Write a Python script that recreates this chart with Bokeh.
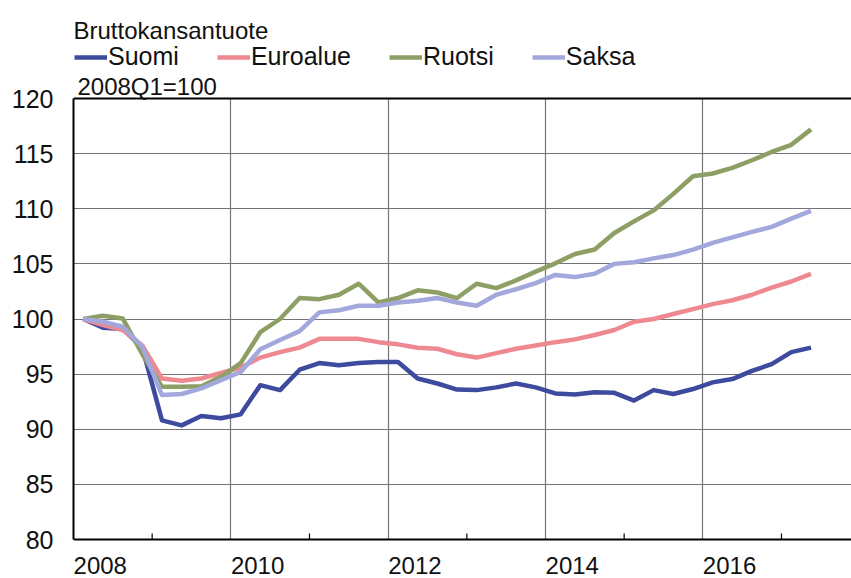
from bokeh.plotting import figure
from bokeh.models import (Range1d, FixedTicker, CustomJSTickFormatter, Legend, LegendItem,
                          Label, Span, ColumnDataSource)
from bokeh.embed import file_html
from bokeh.resources import INLINE

# ---- data (quarterly, 2008Q1 = 100) ----
quarters = [f"{y}Q{q}" for y in range(2008, 2018) for q in range(1, 5)][:38]  # 2008Q1..2017Q2

suomi = [100, 99.2, 99.1, 97.4, 90.8, 90.35, 91.2, 91.0, 91.35, 94.0,
         93.55, 95.4, 96.0, 95.8, 96.0, 96.1, 96.1, 94.6, 94.15, 93.6,
         93.55, 93.8, 94.15, 93.8, 93.25, 93.15, 93.35, 93.3, 92.6, 93.55,
         93.2, 93.65, 94.25, 94.55, 95.3, 95.9, 97.0, 97.4]
euroalue = [100, 99.45, 99.0, 97.6, 94.6, 94.4, 94.6, 95.1, 95.6, 96.5,
            97.0, 97.4, 98.2, 98.2, 98.2, 97.9, 97.7, 97.4, 97.3, 96.8,
            96.5, 96.9, 97.3, 97.6, 97.9, 98.15, 98.55, 99.0, 99.75, 100.0,
            100.45, 100.9, 101.35, 101.7, 102.2, 102.85, 103.4, 104.1]
ruotsi = [100, 100.3, 100.05, 96.8, 93.85, 93.85, 93.9, 94.75, 96.0, 98.8,
          100.0, 101.9, 101.8, 102.2, 103.2, 101.5, 101.9, 102.6, 102.4, 101.9,
          103.2, 102.8, 103.5, 104.3, 105.05, 105.9, 106.3, 107.8, 108.85, 109.85,
          111.35, 112.95, 113.2, 113.7, 114.4, 115.15, 115.8, 117.2]
saksa = [100, 99.75, 99.3, 97.5, 93.1, 93.2, 93.7, 94.45, 95.2, 97.25,
         98.1, 98.9, 100.6, 100.8, 101.2, 101.2, 101.5, 101.65, 101.9, 101.5,
         101.2, 102.2, 102.7, 103.25, 104.0, 103.8, 104.1, 105.0, 105.15, 105.5,
         105.8, 106.3, 106.9, 107.4, 107.9, 108.35, 109.1, 109.8]

series_names = ["Suomi", "Euroalue", "Ruotsi", "Saksa"]
series_values = [suomi, euroalue, ruotsi, saksa]
series_colors = ["#3D4A9E", "#EF8991", "#8D9F64", "#A2A8DC"]

y_ticks = list(range(80, 121, 5))
label_years = [2008, 2010, 2012, 2014, 2016]
minor_years = [2009, 2011, 2013, 2015, 2017]
subtitle = "Bruttokansantuote"
unit_text = "2008Q1=100"

def qpos(label):
    y, q = label.split("Q")
    return int(y) + (int(q) - 1) / 4 + 0.125

xs = [qpos(q) for q in quarters]

FONT = "Liberation Sans"
Y_MIN, Y_MAX = y_ticks[0], y_ticks[-1]
PX_PER_UNIT = 11.025
Y_TOP = Y_MAX + 98 / PX_PER_UNIT     # room above the plot area for the header texts
Y_BOT = Y_MIN - 9 / PX_PER_UNIT      # small room below the 80 line for the year labels

p = figure(width=851, height=578, output_backend="svg", toolbar_location=None,
           title=None, x_range=Range1d(2008, 2017.89), y_range=Range1d(Y_BOT, Y_TOP),
           min_border_left=73, min_border_right=0, min_border_top=0, min_border_bottom=30)
p.background_fill_color = "white"
p.border_fill_color = "white"
p.outline_line_color = None

# grid
p.xgrid.ticker = FixedTicker(ticks=label_years)
p.ygrid.ticker = FixedTicker(ticks=y_ticks)
for g in (p.xgrid[0], p.ygrid[0]):
    g.grid_line_color = "#747474"
    g.grid_line_width = 1.2
use_segments = False
try:
    p.xgrid[0].cross_bounds = (Y_MIN, Y_MAX)
except Exception:
    use_segments = True
if use_segments:
    p.xgrid.visible = False
    p.segment(x0=label_years, y0=[Y_MIN] * len(label_years), x1=label_years,
              y1=[Y_MAX] * len(label_years), line_color="#747474", line_width=1.2)

# y axis
ya = p.yaxis[0]
ya.bounds = (Y_MIN, Y_MAX)
ya.ticker = FixedTicker(ticks=y_ticks)
ya.major_tick_in = 0
ya.major_tick_out = 0
ya.minor_tick_line_color = None
ya.axis_line_color = "black"
ya.axis_line_width = 2
ya.major_label_standoff = 20
ya.major_label_text_font = FONT
ya.major_label_text_font_size = "25px"
ya.major_label_text_color = "#111111"

# x axis: labels start at year boundary
label_shift = 0.34
xa = p.xaxis[0]
xa.ticker = FixedTicker(ticks=[y + label_shift for y in label_years])
xa.formatter = CustomJSTickFormatter(code="return Math.floor(tick).toString();")
xa.major_tick_line_color = None
xa.minor_tick_line_color = None
xa.axis_line_color = None
xa.major_label_standoff = 2
xa.major_label_text_font = FONT
xa.major_label_text_font_size = "24px"
xa.major_label_text_color = "#111111"

# plot-area borders (top and bottom)
p.add_layout(Span(location=Y_MAX, dimension="width", line_color="black", line_width=2))
p.add_layout(Span(location=Y_MIN, dimension="width", line_color="black", line_width=2))
# small inward ticks at odd years on the bottom border
tick_len = 6 / PX_PER_UNIT
p.segment(x0=minor_years, x1=minor_years, y0=[Y_MIN] * len(minor_years),
          y1=[Y_MIN + tick_len] * len(minor_years), line_color="black", line_width=1.2)

# lines
items = []
for name, vals, col in zip(series_names, series_values, series_colors):
    src = ColumnDataSource(dict(x=xs, y=vals))
    r = p.line("x", "y", source=src, line_color=col, line_width=4.5, line_join="round")
    items.append(LegendItem(label=name, renderers=[r]))

legend = Legend(items=items, orientation="horizontal", location=(1, 477),
                glyph_width=33, glyph_height=20, label_standoff=1, spacing=38,
                label_text_font=FONT, label_text_font_size="25px", label_text_color="#111111",
                padding=0, margin=0, border_line_color=None, background_fill_alpha=0)
p.add_layout(legend, "center")

# header texts
p.add_layout(Label(x=2008.0, y=126.17, text=subtitle, text_font=FONT,
                   text_font_size="24px", text_color="#111111", text_baseline="alphabetic"))
p.add_layout(Label(x=2008.05, y=121.1, text=unit_text, text_font=FONT,
                   text_font_size="24px", text_color="#111111", text_baseline="alphabetic"))

open("out.html", "w").write(file_html(p, INLINE))
